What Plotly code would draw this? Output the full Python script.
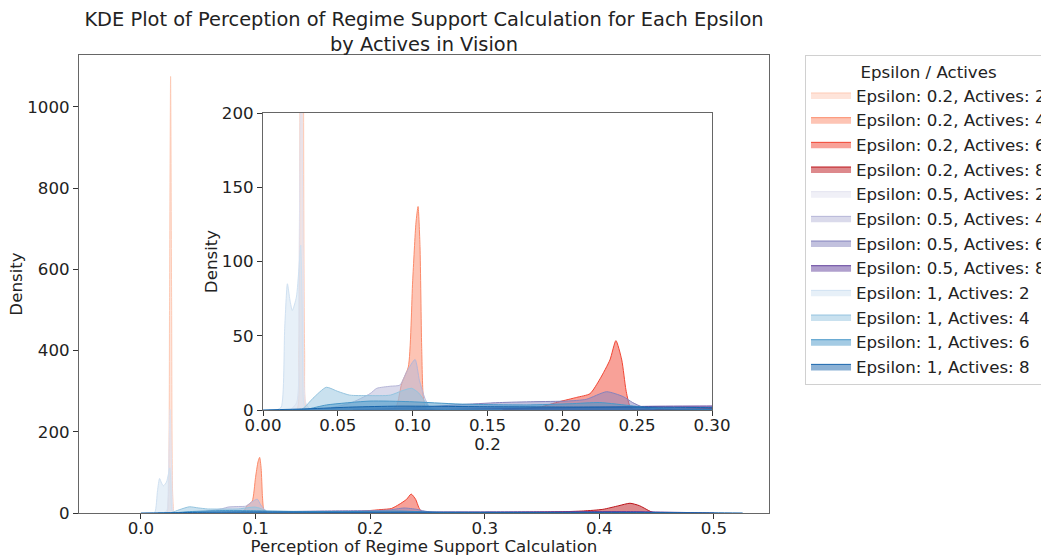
import plotly.graph_objects as go

# ---------------- data ----------------
labels = [
    "Epsilon: 0.2, Actives: 2", "Epsilon: 0.2, Actives: 4",
    "Epsilon: 0.2, Actives: 6", "Epsilon: 0.2, Actives: 8",
    "Epsilon: 0.5, Actives: 2", "Epsilon: 0.5, Actives: 4",
    "Epsilon: 0.5, Actives: 6", "Epsilon: 0.5, Actives: 8",
    "Epsilon: 1, Actives: 2", "Epsilon: 1, Actives: 4",
    "Epsilon: 1, Actives: 6", "Epsilon: 1, Actives: 8",
]
colors = [
    (253, 202, 181), (252, 138, 106), (241, 68, 50), (188, 20, 26),
    (226, 226, 239), (182, 182, 216), (134, 131, 189), (97, 64, 155),
    (208, 225, 242), (148, 196, 223), (74, 152, 201), (23, 100, 171),
]

x_e02_a2 = [0.015, 0.0225, 0.0240, 0.0250, 0.0259, 0.0268, 0.0278, 0.0293, 0.035]
y_e02_a2 = [0, 0, 40, 520, 1075, 520, 40, 0, 0]

x_e02_a4 = [0.075, 0.086, 0.0893, 0.0927, 0.0971, 0.100, 0.1022, 0.1036, 0.1049, 0.106, 0.1071, 0.109, 0.115]
y_e02_a4 = [0, 0.5, 3, 18, 29, 87, 126, 137, 110, 43, 9, 0.5, 0]

x_e02_a6 = [0.16, 0.185, 0.198, 0.2096, 0.2185, 0.2252, 0.2318, 0.2358, 0.2397, 0.2425, 0.2448, 0.247, 0.255]
y_e02_a6 = [0, 2, 5.6, 8.5, 11, 21, 33.7, 46.7, 33.7, 13.5, 3.4, 0.5, 0]

x_e02_a8 = [0.25, 0.30, 0.34, 0.366, 0.386, 0.403, 0.417, 0.4267, 0.435, 0.443, 0.447, 0.46]
y_e02_a8 = [0, 0.8, 1.8, 3, 5, 9, 18, 24, 18, 6, 1, 0]

x_e05_a2 = [0.012, 0.018, 0.0225, 0.0240, 0.0255, 0.0270, 0.0285, 0.032, 0.038]
y_e05_a2 = [0, 0, 5, 90, 255, 90, 5, 0, 0]

x_e05_a4 = [0.03, 0.045, 0.058, 0.0715, 0.076, 0.085, 0.0915, 0.096, 0.1016, 0.1045, 0.1082, 0.112, 0.12]
y_e05_a4 = [0, 1.5, 4.5, 11, 14.6, 16, 16.8, 25.8, 34, 20, 7.8, 1, 0]

x_e05_a6 = [0.06, 0.10, 0.13, 0.158, 0.181, 0.2029, 0.216, 0.2296, 0.2407, 0.247, 0.254, 0.262]
y_e05_a6 = [0, 1.5, 3.5, 5, 5.6, 6, 7.2, 12.3, 9, 5, 1.8, 0]

x_e05_a8 = [0.10, 0.20, 0.26, 0.30, 0.35, 0.40, 0.43, 0.46, 0.50]
y_e05_a8 = [0, 1.5, 2.5, 2.7, 3, 3.5, 3.5, 2, 0]

x_e1_a2 = [0.004, 0.009, 0.0122, 0.0145, 0.0163, 0.018, 0.0196, 0.0223, 0.024, 0.0252, 0.0262, 0.0272, 0.029, 0.034]
y_e1_a2 = [0, 0, 2, 55, 85, 74, 67, 76, 95, 111, 70, 5, 0, 0]

x_e1_a4 = [0.02, 0.0267, 0.0334, 0.0423, 0.050, 0.058, 0.07, 0.085, 0.093, 0.0993, 0.104, 0.1082, 0.111, 0.118, 0.16]
y_e1_a4 = [0, 1, 7.9, 15.3, 12.5, 10, 9.7, 10, 13, 14.6, 11.5, 5.6, 1.5, 0.5, 0]

x_e1_a6 = [0.015, 0.029, 0.0425, 0.0715, 0.098, 0.1316, 0.176, 0.205, 0.225, 0.2474, 0.265, 0.30, 0.35]
y_e1_a6 = [0, 0.5, 3.4, 6, 5.6, 4, 3.4, 4.2, 5, 2.7, 1, 0.3, 0]

x_e1_a8 = [0.0, 0.03, 0.06, 0.09, 0.15, 0.2, 0.25, 0.3, 0.35, 0.4, 0.45, 0.5, 0.525]
y_e1_a8 = [0, 0.8, 2, 2.6, 2.2, 2, 2, 1.6, 1.3, 1.4, 1.2, 0.5, 0]

series_x = [x_e02_a2, x_e02_a4, x_e02_a6, x_e02_a8, x_e05_a2, x_e05_a4,
            x_e05_a6, x_e05_a8, x_e1_a2, x_e1_a4, x_e1_a6, x_e1_a8]
series_y = [y_e02_a2, y_e02_a4, y_e02_a6, y_e02_a8, y_e05_a2, y_e05_a4,
            y_e05_a6, y_e05_a8, y_e1_a2, y_e1_a4, y_e1_a6, y_e1_a8]

main_y_ticks = [0, 200, 400, 600, 800, 1000]
main_x_ticks = [0.0, 0.1, 0.2, 0.3, 0.4, 0.5]
inset_x_ticks = [0.0, 0.05, 0.10, 0.15, 0.20, 0.25, 0.30]
inset_y_ticks = [0, 50, 100, 150, 200]

# ---------------- figure ----------------
FONT = "DejaVu Sans"
FS = 16.67
fig = go.Figure()


def rgba(c, a):
    return "rgba(%d,%d,%d,%s)" % (c[0], c[1], c[2], a)


for i, (xs, ys) in enumerate(zip(series_x, series_y)):
    fig.add_trace(go.Scatter(
        x=xs, y=ys, mode="lines", name=labels[i],
        line=dict(color=rgba(colors[i], 1), width=1, shape="spline", smoothing=0.6),
        fill="tozeroy", fillcolor=rgba(colors[i], 0.5),
        xaxis="x", yaxis="y", showlegend=True, hoverinfo="skip",
    ))

for i, (xs, ys) in enumerate(zip(series_x, series_y)):
    fig.add_trace(go.Scatter(
        x=xs, y=ys, mode="lines", name=labels[i],
        line=dict(color=rgba(colors[i], 1), width=1, shape="spline", smoothing=0.6),
        fill="tozeroy", fillcolor=rgba(colors[i], 0.5),
        xaxis="x2", yaxis="y2", showlegend=False, hoverinfo="skip",
    ))

# white background for the inset, drawn inside the inset subplot layer
fig.add_shape(type="rect", xref="x2", yref="y2", x0=0, x1=0.3, y0=0, y1=200,
              fillcolor="white", line=dict(width=0), layer="below")

axis_common = dict(
    showline=True, linecolor="#666", linewidth=1, mirror=True,
    ticks="outside", ticklen=5, tickwidth=1, tickcolor="#333",
    showgrid=False, zeroline=False,
    tickfont=dict(family=FONT, size=FS, color="#222"),
)

fig.update_layout(
    width=1041, height=556,
    margin=dict(l=79, r=272, t=55, b=43, autoexpand=False),
    paper_bgcolor="white", plot_bgcolor="white",
    font=dict(family=FONT, size=FS, color="#222"),
    title=dict(
        text="KDE Plot of Perception of Regime Support Calculation for Each Epsilon<br>by Actives in Vision",
        x=0.5, xref="paper", xanchor="center",
        y=0.954, yref="container", yanchor="top",
        font=dict(family=FONT, size=19.4, color="#222"),
    ),
    xaxis=dict(axis_common, range=[-0.054, 0.548], tickvals=main_x_ticks,
               tickformat=".1f", domain=[0, 1], anchor="y", ticklabelstandoff=-5,
               title=dict(text="Perception of Regime Support Calculation",
                          font=dict(family=FONT, size=FS), standoff=8)),
    yaxis=dict(axis_common, range=[0, 1128], tickvals=main_y_ticks,
               domain=[0, 1], anchor="x",
               title=dict(text="Density", font=dict(family=FONT, size=FS), standoff=0)),
    xaxis2=dict(axis_common, range=[0, 0.3], tickvals=inset_x_ticks,
                tickformat=".2f", domain=[0.26667, 0.91739], anchor="y2", ticklabelstandoff=-5,
                title=dict(text="0.2", font=dict(family=FONT, size=FS), standoff=0)),
    yaxis2=dict(axis_common, range=[0, 200], tickvals=inset_y_ticks,
                domain=[0.22489, 0.87336], anchor="x2",
                title=dict(text="Density", font=dict(family=FONT, size=FS), standoff=0)),
    legend=dict(
        x=1.0522, y=1.0, xanchor="left", yanchor="top",
        bgcolor="white", bordercolor="#d0d0d0", borderwidth=1,
        font=dict(family=FONT, size=FS, color="#222"),
        title=dict(text="Epsilon / Actives", side="top center",
                   font=dict(family=FONT, size=FS, color="#222")),
        tracegroupgap=0, itemwidth=40,
    ),
)

fig.write_html("out.html", config={"displayModeBar": False},
               post_script="document.body.style.margin='0';")
